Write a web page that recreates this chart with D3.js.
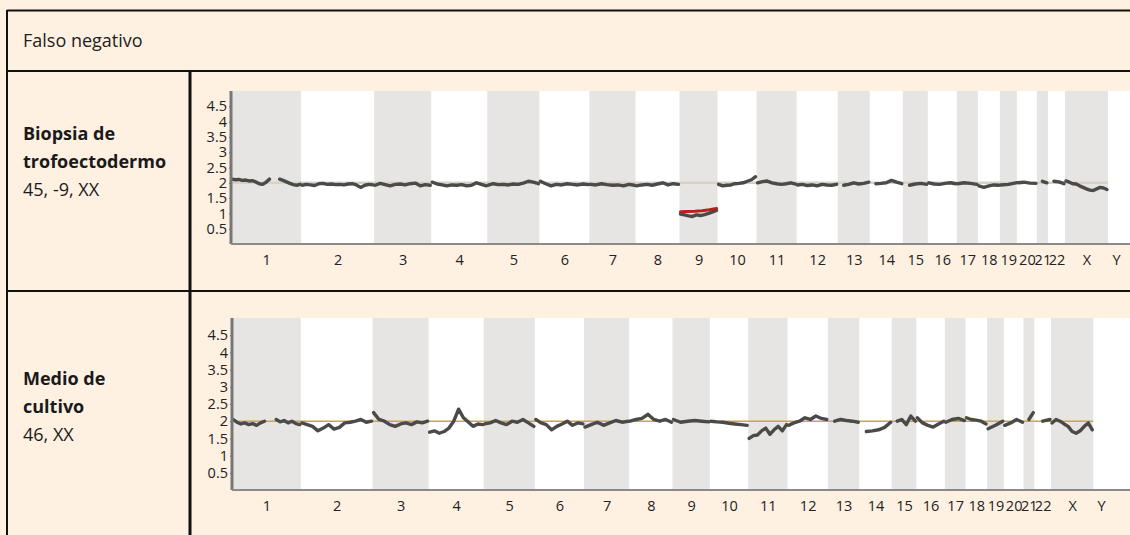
<!DOCTYPE html>
<html>
<head>
<meta charset="utf-8">
<script src="https://cdn.jsdelivr.net/npm/d3@7"></script>
<style>
  body { margin: 0; background: #fef1e2; }
  svg { display: block; font-family: "Open Sans", "Noto Sans", sans-serif; }
</style>
</head>
<body>
<svg id="chart" width="1130" height="535"></svg>
<script>
// chromosomes and their relative widths
const chromosomes = ["1","2","3","4","5","6","7","8","9","10","11","12","13","14","15","16","17","18","19","20","21","22","X","Y"];
const chromSizes = [70,73,57,56,52,50,46,44,38,39,40,41,32,33,25,29,21,22,17,20,11,17,43,16];

const yTicks = [0.5, 1, 1.5, 2, 2.5, 3, 3.5, 4, 4.5];

const headerTitle = "Falso negativo";
const biopsyLabel = ["Biopsia de", "trofoectodermo"];
const biopsyKaryotype = "45, -9, XX";
const cultureLabel = ["Medio de", "cultivo"];
const cultureKaryotype = "46, XX";

// copy number along each chromosome, biopsy (null = no data / centromere)
const biopsyValues = [
    [2.12, 2.1, 2.11, 2.08, 2.09, 2.06, 2.07, 2.03, 1.97, 1.95, 2.02, 2.12, null, null, 2.12, 2.08, 2.03, 1.98, 1.94, 1.92, 1.95],
    [1.92, 1.95, 1.93, 1.91, 1.97, 1.98, 1.95, 1.96, 1.94, 1.95, 1.93, 1.96, 1.97, 1.93, 1.85, 1.92, 1.95, 1.93],
    [1.92, 1.98, 1.94, 1.9, 1.95, 1.96, 1.93, 1.97, 1.99, 1.9, 1.94, 1.92],
    [2.02, 1.96, 1.93, 1.9, 1.93, 1.92, 1.94, 1.9, 1.92, 2.0, 1.95, 1.9],
    [1.92, 1.97, 1.94, 1.95, 1.93, 1.96, 1.95, 1.99, 2.05, 2.02, 1.97],
    [2.05, 1.97, 1.9, 1.95, 1.93, 1.97, 1.95, 1.93, 1.96, 1.94],
    [1.95, 1.93, 1.97, 1.94, 1.92, 1.93, 1.9, 1.95, 1.92],
    [1.9, 1.93, 1.95, 1.92, 1.96, 2.0, 1.93, 1.97, 1.95],
    [],
    [1.95, 1.9, 1.92, 1.93, 1.97, 1.98, 2.0, 2.05, 2.1, 2.2],
    [2.0, 2.04, 2.06, 2.0, 1.97, 1.95, 1.97, 2.0, 1.96],
    [1.93, 1.95, 1.91, 1.93, 1.9, 1.95, 1.93, 1.92, 1.95],
    [null, 1.92, 1.95, 2.0, 1.96, 1.98, 2.02],
    [null, 1.97, 1.98, 2.0, 2.08, 2.02, 1.97],
    [null, 1.92, 1.96, 1.98, 1.95],
    [2.0, 1.96, 1.95, 1.98, 2.0, 1.97],
    [1.97, 2.0, 1.98, 1.95],
    [1.9, 1.85, 1.9, 1.93, 1.92],
    [1.93, 1.95, 2.0],
    [2.0, 2.02, 1.99, 1.98],
    [null, 2.05, 2.0],
    [null, 2.05, 2.03, 1.97],
    [2.06, 2.02, 1.97, 1.96, 1.9, 1.85, 1.8, 1.76, 1.75, 1.8, 1.85, 1.83, 1.78],
    []
];

// loss called on chromosome 9 in the biopsy
const biopsyLossChrom = "9";
const biopsyLossPoints = [0.98, 0.95, 0.92, 0.9, 0.95, 0.93, 0.96, 1.0, 1.05, 1.1];
const biopsyLossCall = [1.05, 1.06, 1.07, 1.09, 1.12, 1.16];

// copy number along each chromosome, culture medium
const cultureValues = [
    [2.05, 1.97, 1.92, 1.95, 1.9, 1.93, 1.88, 1.95, 2.0, null, null, 2.05, 1.98, 2.02, 1.95, 2.0, 1.93, 1.9],
    [1.95, 1.9, 1.85, 1.72, 1.8, 1.9, 1.77, 1.82, 1.95, 1.97, 2.0, 2.05, 1.97, 2.0],
    [2.25, 2.05, 2.0, 1.9, 1.85, 1.92, 1.95, 1.9, 1.98, 1.95, 2.0],
    [1.68, 1.72, 1.65, 1.7, 1.8, 2.0, 2.35, 2.1, 1.98, 1.85, 1.92, 1.9],
    [1.92, 1.95, 2.02, 1.95, 1.9, 2.0, 1.97, 2.05, 1.95, 1.85],
    [2.05, 1.95, 1.9, 1.75, 1.85, 1.92, 2.0, 1.88, 1.95, 1.92],
    [1.83, 1.9, 1.97, 1.88, 1.95, 2.02, 1.97, 2.0],
    [2.0, 2.05, 2.08, 2.2, 2.05, 2.0, 2.05, 1.97],
    [2.05, 1.97, 2.0, 2.02, 2.0, 1.98],
    [2.0, 1.98, 1.97, 1.94, 1.92, 1.9, 1.88],
    [1.5, 1.58, 1.6, 1.72, 1.8, 1.62, 1.75, 1.85, 1.72, 1.9],
    [1.88, 1.95, 2.0, 2.1, 2.05, 2.15, 2.08, 2.05],
    [null, 2.0, 2.05, 2.02, 2.0, 1.97],
    [null, 1.7, 1.72, 1.75, 1.82, 1.97],
    [null, 2.0, 2.05, 1.9, 2.15, 2.0],
    [2.1, 1.95, 1.88, 1.83, 1.92, 2.0],
    [1.97, 2.05, 2.08, 2.02],
    [2.1, 2.05, 2.03, 2.0, 1.92],
    [1.78, 1.88, 2.0],
    [1.88, 1.95, 2.05, 1.97],
    [null, 2.05, 2.25],
    [null, 2.0, 2.05],
    [1.95, 2.05, 2.0, 1.92, 1.85, 1.7, 1.65, 1.72, 1.85, 1.95, 1.75],
    []
];

const svg = d3.select("#chart");
const W = 1130, H = 535;

svg.append("rect").attr("width", W).attr("height", H).attr("fill", "#fef1e2");

// table lines
const border = svg.append("g").attr("stroke", "#111").attr("fill", "none");
border.append("line").attr("x1", 7).attr("x2", W).attr("y1", 10.5).attr("y2", 10.5).attr("stroke-width", 2);
border.append("line").attr("x1", 7).attr("x2", 7).attr("y1", 10).attr("y2", H).attr("stroke-width", 2);
border.append("line").attr("x1", 7).attr("x2", W).attr("y1", 71).attr("y2", 71).attr("stroke-width", 2);
border.append("line").attr("x1", 7).attr("x2", W).attr("y1", 291).attr("y2", 291).attr("stroke-width", 2);
border.append("line").attr("x1", 190).attr("x2", 190).attr("y1", 71).attr("y2", H).attr("stroke-width", 3);

svg.append("text")
    .attr("x", 23).attr("y", 47)
    .attr("font-size", 18).attr("fill", "#222")
    .text(headerTitle);

function rowLabel(lines, karyotype, top) {
    const g = svg.append("g").attr("font-size", 18).attr("fill", "#1a1a1a");
    lines.forEach((t, i) => {
        g.append("text").attr("x", 23).attr("y", top + i * 28)
            .attr("font-weight", "bold").text(t);
    });
    g.append("text").attr("x", 23).attr("y", top + lines.length * 28).text(karyotype);
}

rowLabel(biopsyLabel, biopsyKaryotype, 140);
rowLabel(cultureLabel, cultureKaryotype, 385);

const starts = chromSizes.map((s, i) => d3.sum(chromSizes.slice(0, i)));
const total = d3.sum(chromSizes);

function drawPanel(cfg) {
    const x = d3.scaleLinear().domain([0, total]).range([cfg.left, cfg.right]);
    const y = d3.scaleLinear().domain([0, 5]).range([cfg.bottom, cfg.top]);
    const g = svg.append("g");

    // plot background and chromosome bands
    g.append("rect")
        .attr("x", cfg.left).attr("y", cfg.top)
        .attr("width", W - cfg.left).attr("height", cfg.bottom - cfg.top)
        .attr("fill", "#ffffff");

    g.selectAll("rect.band")
        .data(chromosomes.map((c, i) => ({ c, i, start: starts[i], size: chromSizes[i] }))
            .filter(d => d.i % 2 === 0))
        .enter().append("rect")
        .attr("class", "band")
        .attr("x", d => x(d.start))
        .attr("y", cfg.top)
        .attr("width", d => x(d.start + d.size) - x(d.start))
        .attr("height", cfg.bottom - cfg.top)
        .attr("fill", "#e6e5e4");

    // reference line at 2 copies
    g.append("line")
        .attr("x1", cfg.left).attr("x2", x(starts[23]))
        .attr("y1", y(2)).attr("y2", y(2))
        .attr("stroke", cfg.refColor).attr("stroke-width", cfg.refWidth);

    const line = d3.line()
        .defined(d => d.v != null)
        .x(d => x(d.pos))
        .y(d => y(d.v));

    const toPoints = (vals, i) => vals.map((v, j) => ({
        v,
        pos: starts[i] + 1 + (vals.length > 1 ? j / (vals.length - 1) : 0.5) * (chromSizes[i] - 2)
    }));

    const drawTrace = (pts, color, width) => {
        g.append("path")
            .datum(pts)
            .attr("d", line)
            .attr("fill", "none")
            .attr("stroke", color)
            .attr("stroke-width", width)
            .attr("stroke-linejoin", "round")
            .attr("stroke-linecap", "round");
    };

    cfg.values.forEach((vals, i) => {
        if (!vals.length) return;
        drawTrace(toPoints(vals, i), "#4a4a48", 3.4);
    });

    if (cfg.loss) {
        const ci = chromosomes.indexOf(cfg.loss.chrom);
        drawTrace(toPoints(cfg.loss.points, ci), "#4a4a48", 3.4);
        drawTrace(toPoints(cfg.loss.call, ci), "#b3231c", 3);
    }

    // axes
    const yAxis = g.append("g")
        .attr("transform", `translate(${cfg.left},0)`)
        .call(d3.axisLeft(y).tickValues(yTicks).tickSize(2).tickPadding(2).tickFormat(d => d));
    yAxis.select(".domain").remove();
    yAxis.selectAll("line").attr("stroke", "#666");
    yAxis.selectAll("text")
        .attr("font-size", 14.5).attr("fill", "#222")
        .attr("font-family", "'Open Sans', 'Noto Sans', sans-serif");

    g.append("line")
        .attr("x1", cfg.left).attr("x2", cfg.left)
        .attr("y1", cfg.top).attr("y2", cfg.bottom)
        .attr("stroke", "#777").attr("stroke-width", 3);

    const centers = chromosomes.map((c, i) => starts[i] + chromSizes[i] / 2);
    const xAxis = g.append("g")
        .attr("transform", `translate(0,${cfg.bottom})`)
        .call(d3.axisBottom(x).tickValues(centers).tickSize(0).tickPadding(11)
            .tickFormat((d, i) => chromosomes[i]));
    xAxis.select(".domain").remove();
    xAxis.selectAll("text")
        .attr("font-size", 14.5).attr("fill", "#222")
        .attr("font-family", "'Open Sans', 'Noto Sans', sans-serif");

    g.append("line")
        .attr("x1", cfg.left).attr("x2", W)
        .attr("y1", cfg.bottom).attr("y2", cfg.bottom)
        .attr("stroke", "#8a8a8a").attr("stroke-width", 2);
}

drawPanel({
    top: 91, bottom: 244, left: 231, right: 1124,
    values: biopsyValues,
    refColor: "#d9d1c5", refWidth: 2.5,
    loss: { chrom: biopsyLossChrom, points: biopsyLossPoints, call: biopsyLossCall }
});

drawPanel({
    top: 318, bottom: 490, left: 232, right: 1109,
    values: cultureValues,
    refColor: "#c4a45e", refWidth: 1.5
});
</script>
</body>
</html>
